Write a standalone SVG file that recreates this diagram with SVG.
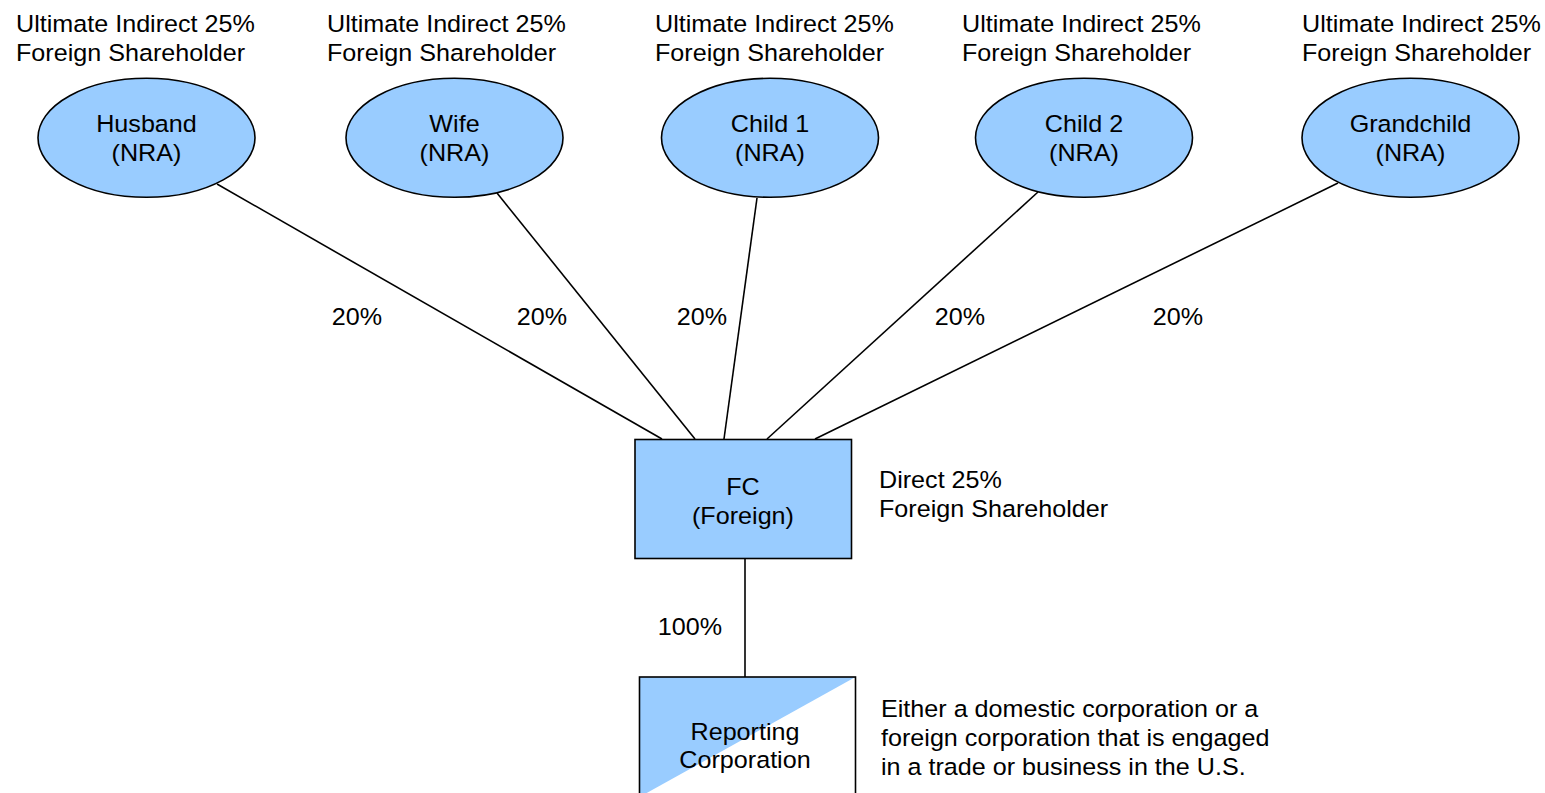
<svg xmlns="http://www.w3.org/2000/svg" width="1545" height="793" viewBox="0 0 1545 793">
<style>
text{font-family:"Liberation Sans",Arial,sans-serif;font-size:23.5px;fill:#000}
.c{text-anchor:middle;transform-box:fill-box;transform-origin:center;transform:scaleX(1.07)}
.l{transform-box:fill-box;transform-origin:left;transform:scaleX(1.07)}
.shape{fill:#99ccff;stroke:#000;stroke-width:1.6}
.conn line{stroke:#000;stroke-width:1.6}
</style>
<rect width="1545" height="793" fill="#fff"/>
<g class="conn" id="connectors">
<line x1="217" y1="184" x2="662" y2="439"/>
<line x1="497" y1="193" x2="695" y2="439"/>
<line x1="757" y1="198" x2="724" y2="439"/>
<line x1="1038" y1="192" x2="767" y2="439"/>
<line x1="1338" y1="183" x2="815" y2="439"/>
<line x1="745" y1="559" x2="745" y2="677"/>
<text class="c" x="357" y="325">20%</text>
<text class="c" x="542" y="325">20%</text>
<text class="c" x="702" y="325">20%</text>
<text class="c" x="960" y="325">20%</text>
<text class="c" x="1178" y="325">20%</text>
<text class="c" x="690" y="635">100%</text>
</g>
<g id="husband">
<text class="l" x="16" y="32">Ultimate Indirect 25%</text>
<text class="l" x="16" y="61">Foreign Shareholder</text>
<ellipse class="shape" cx="146.5" cy="137.8" rx="108.5" ry="59.5"/>
<text class="c" x="146.5" y="132">Husband</text>
<text class="c" x="146.5" y="161">(NRA)</text>
</g>
<g id="wife">
<text class="l" x="327" y="32">Ultimate Indirect 25%</text>
<text class="l" x="327" y="61">Foreign Shareholder</text>
<ellipse class="shape" cx="454.5" cy="137.8" rx="108.5" ry="59.5"/>
<text class="c" x="454.5" y="132">Wife</text>
<text class="c" x="454.5" y="161">(NRA)</text>
</g>
<g id="child1">
<text class="l" x="655" y="32">Ultimate Indirect 25%</text>
<text class="l" x="655" y="61">Foreign Shareholder</text>
<ellipse class="shape" cx="770" cy="137.8" rx="108.5" ry="59.5"/>
<text class="c" x="770" y="132">Child 1</text>
<text class="c" x="770" y="161">(NRA)</text>
</g>
<g id="child2">
<text class="l" x="962" y="32">Ultimate Indirect 25%</text>
<text class="l" x="962" y="61">Foreign Shareholder</text>
<ellipse class="shape" cx="1084" cy="137.8" rx="108.5" ry="59.5"/>
<text class="c" x="1084" y="132">Child 2</text>
<text class="c" x="1084" y="161">(NRA)</text>
</g>
<g id="grandchild">
<text class="l" x="1302" y="32">Ultimate Indirect 25%</text>
<text class="l" x="1302" y="61">Foreign Shareholder</text>
<ellipse class="shape" cx="1410.5" cy="137.8" rx="108.5" ry="59.5"/>
<text class="c" x="1410.5" y="132">Grandchild</text>
<text class="c" x="1410.5" y="161">(NRA)</text>
</g>
<g id="fc">
<rect class="shape" x="635" y="439.5" width="216.5" height="119"/>
<text class="c" x="743" y="495">FC</text>
<text class="c" x="743" y="524">(Foreign)</text>
<text class="l" x="879" y="488">Direct 25%</text>
<text class="l" x="879" y="517">Foreign Shareholder</text>
</g>
<g id="reporting">
<rect x="639.5" y="677" width="216" height="120" fill="#fff" stroke="none"/>
<polygon points="639.5,677 855.5,677 639.5,797" fill="#99ccff"/>
<rect x="639.5" y="677" width="216" height="120" fill="none" stroke="#000" stroke-width="1.6"/>
<text class="c" x="745" y="740">Reporting</text>
<text class="c" x="745" y="768">Corporation</text>
<text class="l" x="881" y="717">Either a domestic corporation or a</text>
<text class="l" x="881" y="746">foreign corporation that is engaged</text>
<text class="l" x="881" y="775">in a trade or business in the U.S.</text>
</g>
</svg>
